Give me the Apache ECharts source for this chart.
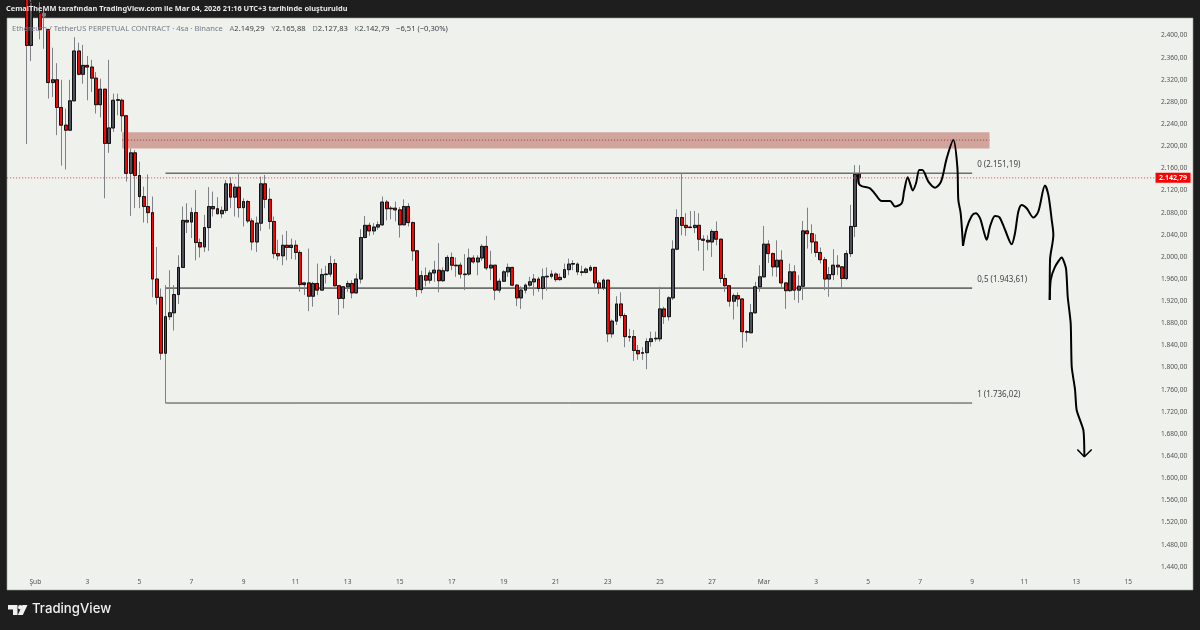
<!DOCTYPE html>
<html>
<head>
  <meta charset="utf-8">
  <title>ETH/USDT 4sa</title>
  <script src="https://cdn.jsdelivr.net/npm/echarts@6/dist/echarts.min.js"></script>
  <style>
    html,body{margin:0;padding:0;background:#1e1e1e;}
  </style>
</head>
<body>
<div id="main" style="width:1200px;height:630px;"></div>

<script type="text/javascript">
// candles, 4h each
var opens=[
2480,2382,2475,2440,2440,2411,2315,2320,2270,2238,
2229,2282,2372,2330,2346,2343,2323,2275,2303,2205,
2233,2283,2283,2255,2151,2188,2147,2109,2091,2080,
1960,1927,1826,1892,1899,1932,1981,2066,2063,2080,
2026,2018,2053,2091,2087,2078,2084,2132,2108,2126,
2089,2100,2065,2027,2061,2132,2104,2064,2006,2002,
2021,2017,2021,2008,1950,1953,1929,1952,1940,1968,
1969,1988,1948,1925,1946,1952,1935,1960,2035,2057,
2047,2054,2058,2099,2087,2088,2085,2058,2091,2062,
2011,1941,1966,1958,1971,1976,1957,1975,1999,1985,
1985,1969,1969,1998,1991,1998,2019,1980,1985,1940,
1956,1973,1981,1949,1926,1940,1949,1955,1960,1943,
1964,1965,1969,1959,1963,1977,1987,1987,1973,1972,
1976,1981,1953,1944,1958,1861,1884,1915,1894,1856,
1856,1831,1826,1827,1847,1852,1852,1906,1892,1926,
2014,2071,2057,2053,2053,2057,2032,2030,2027,2046,
2032,1961,1948,1920,1930,1924,1865,1863,1899,1946,
1964,2023,2006,1982,1994,1953,1939,1973,1940,1947,
2047,2042,2027,2008,1995,1960,1968,1985,1982,1961,
2006,2055,2149.29];
var closes=[
2382,2460,2460,2411,2435,2315,2320,2270,2238,2229,
2282,2372,2330,2346,2343,2323,2275,2303,2205,2233,
2283,2284,2255,2151,2188,2147,2109,2091,2080,1960,
1927,1826,1892,1899,1932,1981,2066,2063,2080,2026,
2018,2053,2091,2087,2078,2084,2132,2108,2126,2089,
2100,2065,2027,2061,2132,2104,2064,2006,2002,2021,
2017,2021,2008,1950,1953,1929,1952,1940,1968,1969,
1988,1948,1925,1946,1952,1935,1960,2035,2057,2047,
2054,2058,2099,2087,2088,2085,2058,2091,2062,2011,
1941,1966,1958,1971,1976,1957,1975,1999,1985,1984,
1969,1968,1998,1991,1998,2019,1980,1985,1940,1956,
1973,1981,1949,1926,1940,1949,1955,1960,1943,1964,
1965,1969,1959,1963,1977,1987,1988,1973,1972,1978,
1981,1953,1944,1958,1861,1884,1915,1894,1856,1855,
1831,1825,1827,1847,1852,1853,1906,1892,1926,2014,
2071,2057,2053,2054,2057,2032,2030,2027,2046,2032,
1961,1948,1920,1930,1924,1865,1864,1899,1946,1964,
2023,2006,1982,1994,1953,1939,1973,1940,1947,2047,
2042,2027,2008,1995,1960,1968,1985,1982,1961,2006,
2055,2149,2142.79];
var lows=[
2204,2354,2440,2393,2376,2286,2289,2220,2165,2158,
2229,2282,2328,2313,2283,2298,2259,2252,2106,2188,
2226,2256,2226,2136,2074,2088,2088,2062,2061,1927,
1914,1814,1736.02,1886,1867,1915,1981,2043,2034,1994,
1999,2009,2011,2073,2077,2070,2079,2088,2073,2071,
2055,2061,2012,2009,2047,2088,2050,1997,1994,1985,
1994,1996,1995,1937,1931,1902,1910,1931,1940,1952,
1964,1946,1895,1907,1937,1925,1934,1952,2034,2038,
2040,2049,2056,2066,2068,2064,2035,2058,2055,1993,
1928,1934,1947,1952,1955,1936,1955,1973,1976,1964,
1961,1940,1966,1988,1967,1993,1976,1958,1922,1935,
1955,1964,1947,1911,1906,1934,1946,1930,1937,1923,
1939,1961,1955,1957,1961,1967,1976,1967,1966,1970,
1973,1943,1933,1940,1846,1854,1877,1889,1837,1847,
1812,1814,1814,1797,1838,1847,1847,1879,1885,1922,
2012,2039,2038,2052,2043,2011,1975,2012,2000,2021,
1953,1937,1910,1887,1910,1836,1847,1862,1898,1937,
1963,1989,1965,1964,1944,1906,1937,1922,1917,1922,
2015,2006,2000,1988,1940,1928,1958,1967,1943,1958,
2000,2036,2127.83];
var highs=[
2520,2500,2500,2460,2445,2411,2378,2350,2320,2268,
2320,2397,2387,2383,2363,2356,2334,2322,2303,2356,
2295,2295,2286,2255,2196,2193,2172,2127,2149,2109,
2018,1943,1949,1976,1949,2003,2091,2097,2089,2121,
2033,2076,2126,2118,2108,2091,2139,2144,2132,2152,
2106,2103,2070,2073,2145,2148,2124,2073,2031,2040,
2047,2033,2030,2012,1955,2015,1955,1988,1979,1984,
2002,1996,1949,1947,1957,1958,1970,2050,2074,2062,
2061,2064,2109,2103,2092,2100,2090,2104,2097,2064,
2012,1975,1981,1976,1993,2025,1981,2003,2008,1999,
1990,2005,2015,2003,2003,2023,2038,2011,1985,1961,
1976,1988,1982,1951,1947,1952,1964,1969,1964,1979,
1981,1976,1972,1970,1988,1997,1994,1990,1984,1981,
1985,1982,1958,1961,1958,1887,1929,1936,1898,1870,
1868,1841,1837,1853,1865,1865,1946,1910,1929,2030,
2086,2151.19,2079,2083,2083,2079,2039,2039,2050,2064,
2033,1969,1949,1934,1936,1925,1868,1915,1955,1985,
2056,2030,2008,2030,2012,1953,1988,1985,1967,2065,
2089,2059,2041,2017,2000,1982,2014,2003,1983,2012,
2094,2166,2165.88];

// hand drawn forecast, [bar number, price], first drawn candle is bar 1
var sketchBars=[192.68,192.83,193.53,195.45,196.6,198.14,200.06,201.21,202.75,203.29,204.13,204.67,205.29,206.05,206.82,207.51,208.9,210.44,211.82,213.13,214.66,215.58,215.81,216.35,216.89];
var sketchPrices=[2148,2133,2128,2124,2114,2101,2101,2091,2097,2118,2144,2133,2120,2133,2157,2157,2136,2125,2136,2178,2211,2163,2103,2079,2020];
var sketchBars2=[216.89,217.74,218.89,219.81,220.81,221.58,222.35,223.12,224.27,225.27,226.58,228.11,228.88,229.65,230.42,231.57,233.11,234.26,235.8,236.57,237.34,237.72,236.95,236.88];
var sketchPrices2=[2020,2052,2074,2079,2070,2049,2031,2055,2074,2072,2049,2023,2043,2082,2094,2088,2071,2082,2129,2112,2067,2040,1994,1922];
var sketchBars3=[236.88,237.11,238.1,239.64,240.64,241.03,241.72,241.95,242.72,243.1,244.64,244.87];
var sketchPrices3=[1922,1958,1982,1999,1979,1928,1880,1802,1760,1723,1687,1640];
var arrowBars=[243.25,244.87,246.56];
var arrowPrices=[1652,1639,1652];

var fibLevels=['0','0,5','1'];
var fibPrices=[2151.19,1943.61,1736.02];
var fibStart=33, fibEnd=219;
var zoneTop=2225, zoneMid=2211, zoneBottom=2196, zoneStart=23, zoneEnd=223;
var lastPrice=2142.79;

var dayLabels=['Şub','3','5','7','9','11','13','15','17','19','21','23','25','27','Mar','3','5','7','9','11','13','15'];
var LEAD=4, BARS=273, FIRST_LABEL=6;

var categories=[];
for(var i=0;i<BARS;i++){
	categories.push(new Date(Date.UTC(2026,0,31,i*4)).toISOString().slice(0,16));
}
var labelOf={};
for(var k=0;k<dayLabels.length;k++){
	labelOf[categories[FIRST_LABEL+k*12]]=dayLabels[k];
}

// 2.400,00
var fmt=function(v){
	var p=v.toFixed(2).split('.');
	return p[0].replace(/\B(?=(\d{3})+$)/g,'.')+','+p[1];
};
var pairs=function(xs,ys){
	return xs.map(function(x,i){return [x,ys[i]];});
};

var wicks=[],bodies=[];
for(var n=0;n<LEAD;n++){wicks.push('-');bodies.push('-');}
opens.forEach(function(o,i){
	var c=closes[i];
	wicks.push([o,c,lows[i],highs[i]]);
	bodies.push([o,c,Math.min(o,c),Math.max(o,c)]);
});

var font='"Noto Sans", sans-serif';
var GRAY='#787b86', DARK='#3a3c42';

var overlay=function(o){
	o.type='line';
	o.xAxisIndex=1;
	o.yAxisIndex=0;
	o.symbol='none';
	o.silent=true;
	return o;
};

var series=[
	{
		type:'candlestick',z:3,barWidth:3.4,silent:true,data:wicks,
		itemStyle:{color:'#808186',color0:'#808186',borderColor:'#808186',borderColor0:'#808186',borderWidth:1}
	},
	{
		type:'candlestick',z:4,barWidth:3.4,silent:true,data:bodies,
		itemStyle:{color:'#4d505a',color0:'#ff0000',borderColor:'#111',borderColor0:'#111',borderWidth:1}
	},
	overlay({
		z:1,data:[[zoneStart,zoneMid],[zoneEnd,zoneMid]],
		lineStyle:{color:'#8f3f3a',width:1,type:[1,2]},
		markArea:{silent:true,itemStyle:{color:'rgba(172,70,60,0.45)'},data:[[{coord:[zoneStart,zoneTop]},{coord:[zoneEnd,zoneBottom]}]]}
	}),
	overlay({
		z:5,data:[[-3.5,lastPrice],[269,lastPrice]],
		lineStyle:{color:'#f23645',width:1,type:[1,2]},
		endLabel:{show:true,formatter:fmt(lastPrice),backgroundColor:'#ff0000',color:'#fff',fontFamily:font,fontWeight:'bold',fontSize:7,padding:[1.5,3.5,1.5,3.5],align:'right',verticalAlign:'middle',distance:0,offset:[1.5,0]}
	}),
	overlay({z:6,data:pairs(sketchBars,sketchPrices),smooth:0.3,lineStyle:{color:'#000',width:2}}),
	overlay({z:6,data:pairs(sketchBars2,sketchPrices2),smooth:0.3,lineStyle:{color:'#000',width:2}}),
	overlay({z:6,data:pairs(sketchBars3,sketchPrices3),smooth:0.2,lineStyle:{color:'#000',width:2}}),
	overlay({z:6,data:pairs(arrowBars,arrowPrices),lineStyle:{color:'#000',width:1.6}})
];
fibPrices.forEach(function(p,i){
	series.push(overlay({
		z:2,data:[[fibStart,p],[fibEnd,p]],
		lineStyle:{color:i==2?'#444':'#6e6e6e',width:i==2?1:1.6},
		endLabel:{show:true,formatter:fibLevels[i]+' ('+fmt(p)+')',color:'#444',fontFamily:font,fontSize:8,distance:5,offset:[0,-8.5]}
	}));
});

var legendRich={
	g:{fill:GRAY,fontFamily:font,fontSize:7.6},
	d:{fill:DARK,fontFamily:font,fontSize:7.6}
};

var myChart=echarts.init(document.getElementById('main'),null,{renderer:'canvas'});
myChart.setOption({
	animation:false,
	backgroundColor:'#1e1e1e',
	grid:{left:7.18,top:17.8,width:1184,height:571.2,containLabel:false},
	xAxis:[
		{
			type:'category',data:categories,boundaryGap:true,
			axisLine:{show:false},axisTick:{show:false},splitLine:{show:false},
			axisLabel:{
				inside:true,margin:3,color:'#555',fontFamily:font,fontSize:6.6,
				interval:function(i){return labelOf[categories[i]]!==undefined;},
				formatter:function(v){return labelOf[v];}
			}
		},
		{type:'value',show:false,min:-3.5,max:269.5,splitLine:{show:false}}
	],
	yAxis:{
		type:'value',position:'right',min:1400,max:2432,interval:40,scale:true,
		axisLine:{show:false},axisTick:{show:false},splitLine:{show:false},
		axisLabel:{inside:true,margin:4,color:'#555',fontFamily:font,fontSize:6.6,showMinLabel:false,showMaxLabel:false,formatter:function(v){return fmt(v);}}
	},
	series:series,
	graphic:[
		{type:'rect',silent:true,z:-1,shape:{x:7,y:18,width:1186,height:572},style:{fill:'#eff1ec',stroke:'#9a9c9a',lineWidth:0.6}},
		{type:'text',silent:true,z:50,x:6,y:5,style:{text:'CemalTheMM tarafından TradingView.com ile Mar 04, 2026 21:16 UTC+3 tarihinde oluşturuldu',fill:'#e8e8e8',fontFamily:font,fontSize:7.4,fontWeight:'bold'}},
		{type:'text',silent:true,z:50,x:12,y:22.5,style:{
			text:'{g|Ethereum / TetherUS PERPETUAL CONTRACT · 4sa · Binance}  {g|A}{d|2.149,29}  {g|Y}{d|2.165,88}  {g|D}{d|2.127,83}  {g|K}{d|2.142,79}  {d|−6,51 (−0,30%)}',
			rich:legendRich
		}},
		// logo
		{type:'polygon',silent:true,shape:{points:[[8,605],[17.5,605],[17.5,615],[13,615],[13,609.5],[8,609.5]]},style:{fill:'#f0f0f0'}},
		{type:'circle',silent:true,shape:{cx:20.3,cy:607.2,r:2.2},style:{fill:'#f0f0f0'}},
		{type:'polygon',silent:true,shape:{points:[[22.5,605],[27.5,605],[22.8,615],[17.8,615]]},style:{fill:'#f0f0f0'}},
		{type:'text',silent:true,x:32,y:602.5,style:{text:'TradingView',fill:'#f0f0f0',fontFamily:'Inter, sans-serif',fontSize:13.2,fontWeight:500}}
	]
});
</script>
</body>
</html>
